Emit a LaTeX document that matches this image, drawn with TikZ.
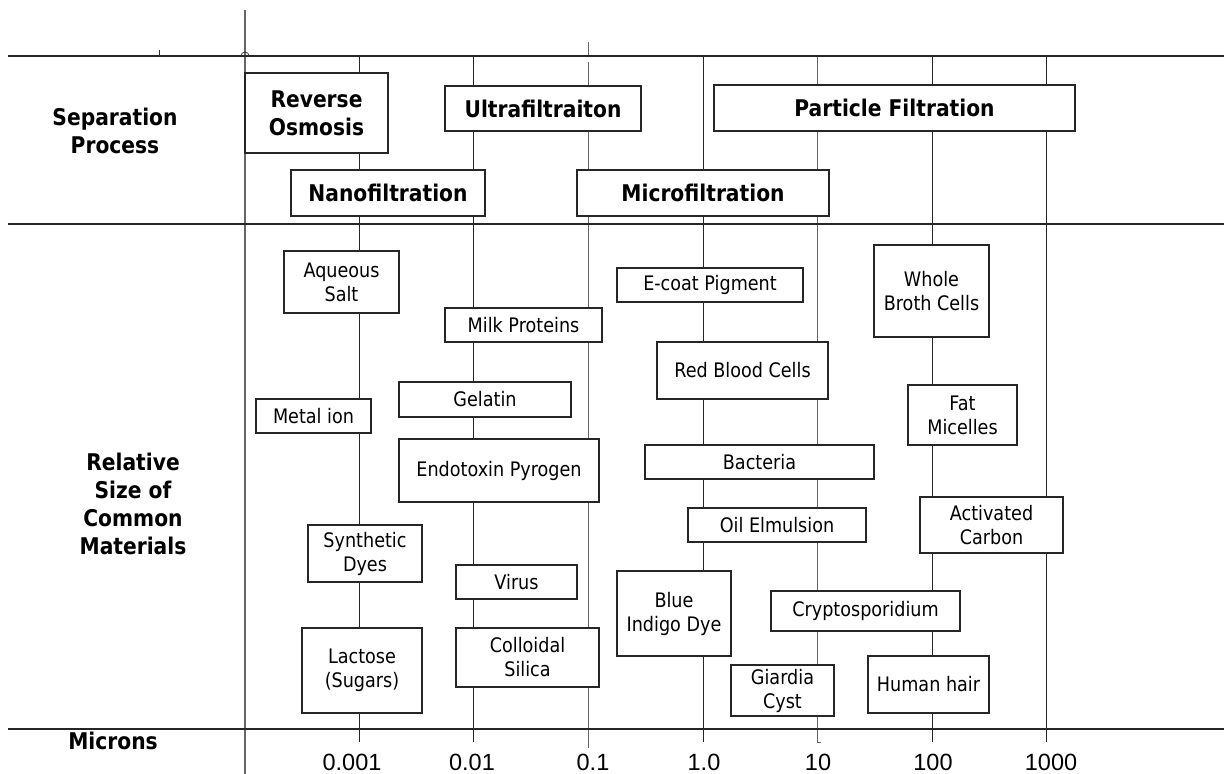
\documentclass[tikz,border=0pt]{standalone}
\usepackage{fontspec}
\setmainfont{DejaVu Sans}[FakeStretch=0.88]
\newfontfamily\ticksfont{Liberation Sans}
\newcommand\mybox[7]{%
  \node[#1, minimum width={(#5-#3)*1pt}, minimum height={(#6-#4)*1pt}] (#2) at ({(#3+#5)/2},{(#4+#6)/2}) {#7};}
\begin{document}
\begin{tikzpicture}[x=1pt,y=-1pt,
  hline/.style={line width=2pt, draw=black!85},
  vline/.style={line width=1pt, draw=black!85},
  gline/.style={line width=1pt, draw=black!60},
  proc/.style={draw=black!85, line width=1.3pt, fill=white, inner sep=0pt, align=center, font=\fontsize{23}{28}\selectfont\bfseries},
  mat/.style={draw=black!85, line width=1.2pt, fill=white, inner sep=0pt, align=center, font=\fontsize{20}{24}\selectfont},
  lbl/.style={align=center, inner sep=0pt, font=\fontsize{23}{28}\selectfont\bfseries},
  ticklbl/.style={inner sep=0pt, anchor=base, text depth=0pt, font=\ticksfont\fontsize{23.5}{28}\selectfont}]
\useasboundingbox (0,0) rectangle (1224,774);
% horizontal rules
\coordinate (h1l) at (8,56);  \coordinate (h1r) at (1224,56);
\coordinate (h2l) at (8,224); \coordinate (h2r) at (1224,224);
\coordinate (h3l) at (8,729); \coordinate (h3r) at (1224,729);
% left axis
\coordinate (axt) at (245,10); \coordinate (axb) at (245,774);
\draw[gline, line width=1.2pt] (axt) -- (axb);
% decade lines
\foreach \x/\n in {359/a,473/b,703/d,932/f,1046/g}{
  \coordinate (t\n) at (\x,56); \coordinate (b\n) at (\x,742);
  \draw[vline] (t\n) -- (b\n);}
\coordinate (tc0) at (588,42); \coordinate (tc1) at (588,56);
\coordinate (tc2) at (588,62); \coordinate (bc) at (588,748);
\draw[gline] (tc0) -- (tc1);
\draw[gline] (tc2) -- (bc);
\coordinate (te) at (817,56); \coordinate (be) at (817,742); \coordinate (be2) at (821,742);
\draw[gline] (te) -- (be) -- (be2);
\draw[hline] (h1l) -- (h1r);
\draw[hline] (h2l) -- (h2r);
\draw[hline] (h3l) -- (h3r);
% small marks on the top rule
\coordinate (tk1) at (159,50); \coordinate (tk2) at (159,56);
\draw[line width=0.8pt, black!80] (tk1) -- (tk2);
\coordinate (arcs) at (241,56);
\draw[line width=0.8pt, black!80] (arcs) arc[start angle=180, end angle=360, radius=4];
% row labels
\node[lbl] (sep) at (115,131) {Separation\\Process};
\node[lbl] (rel) at (133,504) {Relative\\Size of\\Common\\Materials};
\node[lbl] (mic) at (113,741) {Microns};
% tick labels
\foreach \x/\t/\n in {352/0.001/a,472/0.01/b,593/0.1/c,704/1.0/d,818/10/e,933/100/f,1051/1000/g}
  \node[ticklbl] (lab\n) at (\x,770) {\t};
% separation processes
\mybox{proc}{ro}{245}{73}{388}{153}{Reverse\\Osmosis}
\mybox{proc}{uf}{445}{86}{641}{131}{Ultrafiltraiton}
\mybox{proc}{pf}{714}{85}{1075}{131}{Particle Filtration}
\mybox{proc}{nf}{291}{170}{485}{216}{Nanofiltration}
\mybox{proc}{mf}{577}{170}{829}{216}{Microfiltration}
% materials
\mybox{mat}{aq}{284}{251}{399}{313}{Aqueous\\Salt}
\mybox{mat}{mp}{445}{308}{602}{342}{Milk Proteins}
\mybox{mat}{ge}{399}{382}{571}{417}{Gelatin}
\mybox{mat}{mi}{256}{399}{371}{433}{Metal ion}
\mybox{mat}{en}{399}{439}{599}{502}{Endotoxin Pyrogen}
\mybox{mat}{sd}{308}{525}{422}{582}{Synthetic\\Dyes}
\mybox{mat}{vi}{456}{565}{577}{599}{Virus}
\mybox{mat}{la}{302}{628}{422}{713}{Lactose\\(Sugars)}
\mybox{mat}{cs}{456}{628}{599}{687}{Colloidal\\Silica}
\mybox{mat}{ec}{617}{268}{803}{302}{E-coat Pigment}
\mybox{mat}{wb}{874}{245}{989}{337}{Whole\\Broth Cells}
\mybox{mat}{rb}{657}{342}{828}{399}{Red Blood Cells}
\mybox{mat}{fm}{908}{385}{1017}{445}{Fat\\Micelles}
\mybox{mat}{ba}{645}{445}{874}{479}{Bacteria}
\mybox{mat}{oe}{688}{508}{866}{542}{Oil Elmulsion}
\mybox{mat}{ac}{920}{497}{1063}{553}{Activated\\Carbon}
\mybox{mat}{bi}{617}{571}{731}{656}{Blue\\Indigo Dye}
\mybox{mat}{cr}{771}{591}{960}{631}{Cryptosporidium}
\mybox{mat}{gc}{731}{665}{834}{716}{Giardia\\Cyst}
\mybox{mat}{hh}{868}{656}{989}{713}{Human hair}
\end{tikzpicture}
\end{document}
